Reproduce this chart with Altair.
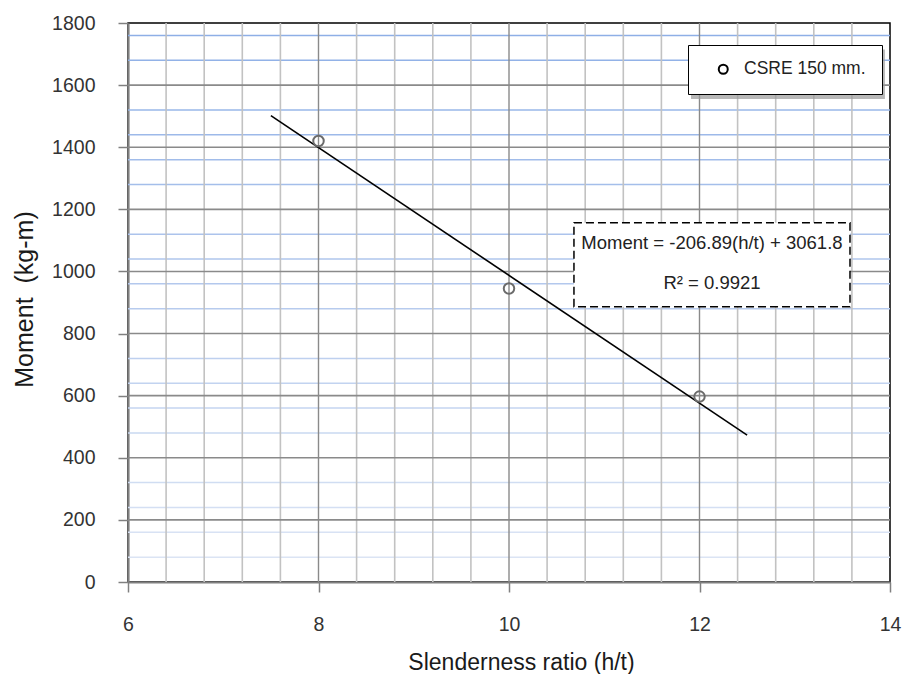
import altair as alt
import pandas as pd

# ---- data ----
slenderness = [8, 10, 12]
moment = [1420, 945, 597]
series_name = "CSRE 150 mm."

x_ticks = [6, 8, 10, 12, 14]
y_ticks = [0, 200, 400, 600, 800, 1000, 1200, 1400, 1600, 1800]

x_major_grid = [8, 10, 12]
x_minor_grid = [6.4, 6.8, 7.2, 7.6, 8.4, 8.8, 9.2, 9.6,
                10.4, 10.8, 11.2, 11.6, 12.4, 12.8, 13.2, 13.6]
y_major_grid = [200, 400, 600, 800, 1000, 1200, 1400, 1600]
y_minor_grid = [80, 160, 240, 320, 480, 560, 640, 720, 880, 960,
                1040, 1120, 1280, 1360, 1440, 1520, 1680, 1760]

trend_extent = [7.5, 12.5]
equation_lines = ["Moment = -206.89(h/t) + 3061.8", "R² = 0.9921"]
eq_text_x = [12.131, 12.131]
eq_text_y = [1091.6, 962.8]
eq_box = {"x": [10.682], "x2": [13.580], "y": [1157.0], "y2": [886.5]}
legend_shadow = {"x": [11.911], "x2": [13.947], "y": [1715.0], "y2": [1555.0]}

FONT = "Liberation Sans"

pts = pd.DataFrame({"x": slenderness, "y": moment, "series": [series_name] * 3})

xs = alt.Scale(domain=[6, 14], nice=False, zero=False)
ys = alt.Scale(domain=[0, 1800], nice=False)

x_axis = alt.Axis(values=x_ticks, format="d", title="Slenderness ratio (h/t)",
                  titleFontSize=23, titleX=393, titleY=87, titleBaseline="alphabetic",
                  titleAlign="center", labelFlush=False)
y_axis = alt.Axis(values=y_ticks, format="d", title="Moment \u00a0(kg-m)",
                  titleFontSize=25, titleX=-96, titleY=276, titleAngle=270,
                  titleBaseline="alphabetic", titleAlign="center", labelFlush=False)

minor_h = alt.Chart(pd.DataFrame({"v": y_minor_grid})).mark_rule(strokeWidth=1.5).encode(
    y=alt.Y("v:Q", scale=ys, axis=y_axis),
    stroke=alt.Stroke("v:Q", scale=alt.Scale(domain=[0, 1800], range=["#dfe7f5", "#8caee6"]),
                      legend=None),
)
minor_v = alt.Chart(pd.DataFrame({"v": x_minor_grid})).mark_rule(
    color="#c2c2c2", strokeWidth=1.6).encode(x=alt.X("v:Q", scale=xs, axis=x_axis))
major_h = alt.Chart(pd.DataFrame({"v": y_major_grid})).mark_rule(
    color="#8a8a8a", strokeWidth=1.6).encode(y=alt.Y("v:Q", scale=ys, axis=y_axis))
major_v = alt.Chart(pd.DataFrame({"v": x_major_grid})).mark_rule(
    color="#8a8a8a", strokeWidth=1.4).encode(x=alt.X("v:Q", scale=xs, axis=x_axis))

trend = alt.Chart(pts).transform_regression(
    "x", "y", extent=trend_extent).mark_line(color="black", strokeWidth=1.6).encode(
    x=alt.X("x:Q", scale=xs, axis=x_axis), y=alt.Y("y:Q", scale=ys, axis=y_axis))

shadow = alt.Chart(pd.DataFrame(legend_shadow)).mark_rect(
    fill="#9a9a9a", opacity=0.7).encode(
    x=alt.X("x:Q", scale=xs, axis=x_axis), x2="x2:Q",
    y=alt.Y("y:Q", scale=ys, axis=y_axis), y2="y2:Q")

points = alt.Chart(pts).mark_point(filled=False, size=110, strokeWidth=2,
                                   opacity=1, color="#6b6b6b").encode(
    x=alt.X("x:Q", scale=xs, axis=x_axis),
    y=alt.Y("y:Q", scale=ys, axis=y_axis),
    shape=alt.Shape("series:N", scale=alt.Scale(range=["circle"]),
                    legend=alt.Legend(
                        title=None, orient="none", legendX=560, legendY=22,
                        fillColor="white", strokeColor="black", padding=15.5,
                        symbolSize=81, symbolStrokeWidth=2,
                        symbolStrokeColor="black", symbolFillColor="white",
                        symbolOffset=11, labelOffset=12,
                        labelFont=FONT, labelFontSize=17.5, labelColor="#222222",
                        labelLimit=300)),
)

box = alt.Chart(pd.DataFrame(eq_box)).mark_rect(
    fill="white", stroke="black", strokeWidth=1.5, strokeDash=[8, 4]).encode(
    x=alt.X("x:Q", scale=xs, axis=x_axis), x2="x2:Q",
    y=alt.Y("y:Q", scale=ys, axis=y_axis), y2="y2:Q")

eq_text = alt.Chart(pd.DataFrame({"x": eq_text_x, "y": eq_text_y, "t": equation_lines})).mark_text(
    font=FONT, fontSize=18.5, color="#222222", align="center", baseline="middle").encode(
    x=alt.X("x:Q", scale=xs, axis=x_axis), y=alt.Y("y:Q", scale=ys, axis=y_axis), text="t:N")

chart = alt.layer(minor_h, minor_v, major_h, major_v, trend, shadow, points, box, eq_text).properties(
    width=762, height=559,
    autosize=alt.AutoSizeParams(type="none"),
    padding={"left": 120, "top": 15, "right": 12, "bottom": 92},
).configure_view(
    stroke="black", strokeWidth=1.5
).configure_axis(
    grid=False, domainColor="#808080", domainWidth=2.2, tickColor="#808080",
    tickWidth=1.5, tickSize=10, labelFont=FONT, labelFontSize=19.5,
    labelColor="#333333", labelPadding=23, titleFont=FONT, titleColor="#1a1a1a",
    titleFontWeight="normal", zindex=1, labelFlush=False,
)

chart.save("out.html", embed_options={"renderer": "svg", "actions": False})
